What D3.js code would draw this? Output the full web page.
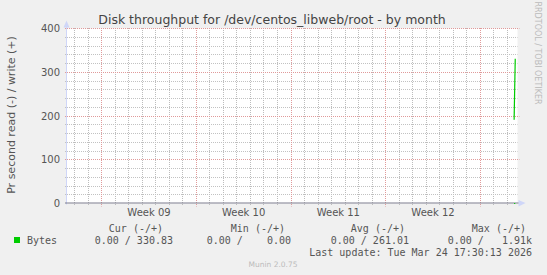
<!DOCTYPE html>
<html>
<head>
<meta charset="utf-8">
<script src="https://cdn.jsdelivr.net/npm/d3@7"></script>
<style>
  html, body { margin: 0; padding: 0; background: #f0f0f0; }
  svg { display: block; }
  text { font-family: "DejaVu Sans", sans-serif; }
  .mono { font-family: "DejaVu Sans Mono", monospace; white-space: pre; }
</style>
</head>
<body>
<div id="chart"></div>
<script>
const WIDTH  = 547;
const HEIGHT = 275;

// data (UTC)
const timeDomain  = [new Date(Date.UTC(2026, 1, 20, 10, 25)), new Date(Date.UTC(2026, 2, 25, 18, 0))];
const writeTimes  = [new Date(Date.UTC(2026, 2, 25, 12, 0)), new Date(Date.UTC(2026, 2, 25, 14, 0))];
const writeValues = [191.19, 330.83];
const readValues  = [0, 0];
const yTicks      = [0, 100, 200, 300, 400];
const legendHeads = ["Cur (-/+)", "Min (-/+)", "Avg (-/+)", "Max (-/+)"];
const legendVals  = ["0.00 / 330.83", "0.00 /    0.00", "0.00 / 261.01", "0.00 /   1.91k"];

const plot = { left: 67, right: 517.5, top: 28.5, bottom: 203.5 };

const svg = d3.select("#chart").append("svg")
  .attr("width", WIDTH).attr("height", HEIGHT);

svg.append("rect").attr("width", WIDTH).attr("height", HEIGHT).attr("fill", "#f0f0f0");
svg.append("rect")
  .attr("x", plot.left).attr("y", plot.top)
  .attr("width", plot.right - plot.left).attr("height", plot.bottom - plot.top)
  .attr("fill", "#ffffff");

const x = d3.scaleUtc().domain(timeDomain).range([plot.left, plot.right]);
const y = d3.scaleLinear().domain([0, 400]).range([plot.bottom, plot.top]);

const snap = v => Math.floor(v) + 0.5;

// grid: dotted lines, minor every day / 20 units, major every monday / 100 units
const grid = svg.append("g");
const mondays = d3.utcMonday.range(timeDomain[0], timeDomain[1]);
const minorDays = x.ticks(d3.utcDay.every(1))
  .filter(d => d.getUTCDay() !== 1);

function vline(data, color, extra) {
  grid.append("path")
    .attr("d", data.map(d => `M${snap(x(d))},${plot.top - 0.5}V${plot.bottom + extra}`).join(""))
    .attr("fill", "none")
    .attr("stroke", color).attr("stroke-width", 1)
    .attr("stroke-dasharray", "1 1");
}
function hline(data, color, x2) {
  grid.append("path")
    .attr("d", data.map(d => `M${plot.left - 2},${snap(y(d))}H${x2}`).join(""))
    .attr("fill", "none")
    .attr("stroke", color).attr("stroke-width", 1)
    .attr("stroke-dasharray", "1 1");
}
vline(minorDays, "#bcbcbc", 2);
hline(d3.range(20, 401, 20).filter(v => v % 100), "#c2c2c2", plot.right);
vline(mondays, "#e09a9a", 3);
hline(yTicks.filter(v => v > 0), "#e09a9a", plot.right + 2);

// axes
svg.append("line")
  .attr("x1", plot.left - 0.5).attr("x2", plot.left - 0.5)
  .attr("y1", plot.top - 4).attr("y2", plot.bottom + 1)
  .attr("stroke", "#cfd6f8");
svg.append("path")
  .attr("d", `M${plot.left - 3.5},${plot.top - 1} L${plot.left - 0.5},${plot.top - 8} L${plot.left + 2.5},${plot.top - 1} Z`)
  .attr("fill", "#cfd6f8");
svg.append("path")
  .attr("d", `M${plot.right + 1},${plot.bottom - 3.5} L${plot.right + 8},${plot.bottom - 0.5} L${plot.right + 1},${plot.bottom + 3} Z`)
  .attr("fill", "#cfd6f8");
svg.append("line")
  .attr("x1", plot.left - 2).attr("x2", plot.right + 1)
  .attr("y1", plot.bottom - 0.5).attr("y2", plot.bottom - 0.5)
  .attr("stroke", "#7a7a8c");

// y labels
svg.append("g").selectAll("text").data(yTicks).join("text")
  .attr("x", 60).attr("y", d => y(d) + 3.5)
  .attr("text-anchor", "end")
  .attr("font-size", 10).attr("fill", "#555")
  .text(d => d);

// x labels at week centres
const labelTimes = mondays.slice(0, 4).map(d => d3.utcHour.offset(d, 84));
svg.append("g").selectAll("text").data(labelTimes).join("text")
  .attr("x", d => x(d)).attr("y", 216)
  .attr("text-anchor", "middle")
  .attr("font-size", 10).attr("fill", "#555")
  .text(d3.utcFormat("Week %V"));

// series
const line = d3.line().x(d => x(d[0])).y(d => y(d[1]));
svg.append("path")
  .datum(d3.zip(writeTimes, readValues.map(v => -v)))
  .attr("d", line).attr("fill", "none").attr("stroke", "#00cc00");
svg.append("path")
  .datum(d3.zip(writeTimes, writeValues))
  .attr("d", line).attr("fill", "none").attr("stroke", "#00cc00").attr("stroke-width", 1.2);

// titles
svg.append("text")
  .attr("x", 272).attr("y", 24)
  .attr("text-anchor", "middle")
  .attr("font-size", 12.5).attr("fill", "#444")
  .text("Disk throughput for /dev/centos_libweb/root - by month");

svg.append("text")
  .attr("transform", "translate(15,115) rotate(-90)")
  .attr("text-anchor", "middle")
  .attr("font-size", 11).attr("fill", "#555")
  .text("Pr second read (-) / write (+)");

svg.append("text")
  .attr("transform", "translate(535,53) rotate(90)")
  .attr("text-anchor", "middle")
  .attr("font-size", 8).attr("fill", "#bbb")
  .text("RRDTOOL / TOBI OETIKER");

// legend
const headX = [163, 285, 405, 526];
const valX  = [173, 291, 409, 532];
svg.append("g").selectAll("text").data(legendHeads).join("text")
  .attr("class", "mono")
  .attr("x", (d, i) => headX[i]).attr("y", 232)
  .attr("text-anchor", "end")
  .attr("font-size", 10).attr("fill", "#555")
  .text(d => d);
svg.append("g").selectAll("text").data(legendVals).join("text")
  .attr("class", "mono")
  .attr("x", (d, i) => valX[i]).attr("y", 244)
  .attr("text-anchor", "end")
  .attr("font-size", 10).attr("fill", "#555")
  .text(d => d);
svg.append("rect")
  .attr("x", 14).attr("y", 237).attr("width", 6).attr("height", 6)
  .attr("fill", "#00cc00");
svg.append("text")
  .attr("class", "mono")
  .attr("x", 27).attr("y", 244)
  .attr("font-size", 10).attr("fill", "#555")
  .text("Bytes");
svg.append("text")
  .attr("class", "mono")
  .attr("x", 532).attr("y", 256)
  .attr("text-anchor", "end")
  .attr("font-size", 10).attr("fill", "#555")
  .text("Last update: Tue Mar 24 17:30:13 2026");

svg.append("text")
  .attr("x", 273).attr("y", 267)
  .attr("text-anchor", "middle")
  .attr("font-size", 7.5).attr("fill", "#bbb")
  .text("Munin 2.0.75");
</script>
</body>
</html>
